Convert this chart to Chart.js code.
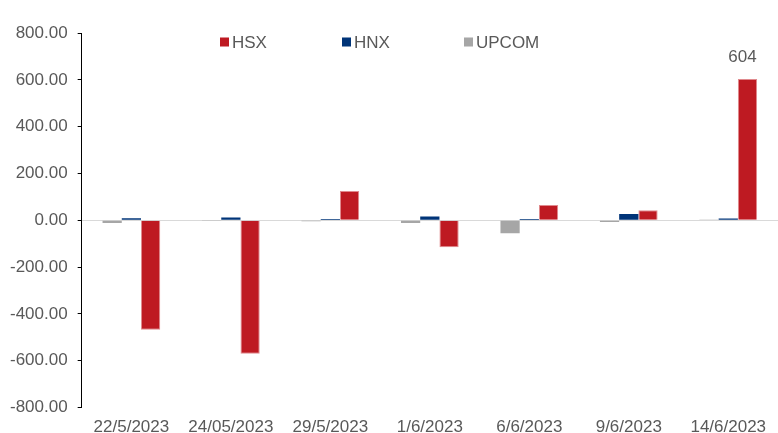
<!DOCTYPE html>
<html lang="en">
  <head>
    <meta charset="UTF-8" />
    <script src="https://cdn.jsdelivr.net/npm/chart.js@4.4.0/dist/chart.umd.min.js"></script>
    <title>HSX HNX UPCOM</title>
    <style>
      body {
        margin: 0;
        padding: 0;
        background: #fff;
      }
      .container {
        width: 778px;
        height: 433px;
      }
    </style>
  </head>
  <body>
    <div class="container">
      <canvas id="chart"></canvas>
    </div>
    <script>
      const categories = ['22/5/2023', '24/05/2023', '29/5/2023', '1/6/2023', '6/6/2023', '9/6/2023', '14/6/2023']
      const upcomValues = [-12, -1, -4, -12, -55, -7, 3]
      const hnxValues = [9, 12, 6, 16, 6, 27, 8]
      const hsxValues = [-468, -570, 125, -115, 65, 43, 604]
      const yTicks = [-800, -600, -400, -200, 0, 200, 400, 600, 800]

      const FONT = 'Arial, "Liberation Sans", sans-serif'
      const TEXT = '#595959'

      // legend drawn over the plot, like the original
      const legendItems = [
        { text: 'HSX', color: '#BE1A22' },
        { text: 'HNX', color: '#003478' },
        { text: 'UPCOM', color: '#A6A6A6' },
      ]
      const overlayPlugin = {
        id: 'overlay',
        afterDraw(chart) {
          const { ctx } = chart
          ctx.save()
          ctx.font = '17px ' + FONT
          ctx.textBaseline = 'middle'
          ctx.textAlign = 'left'
          legendItems.forEach((item, i) => {
            const x = 220 + i * 122
            const y = 42
            ctx.fillStyle = item.color
            ctx.fillRect(x, y - 4.5, 9, 9)
            ctx.fillStyle = TEXT
            ctx.fillText(item.text, x + 12, y + 1)
          })
          // value label on the largest bar
          const meta = chart.getDatasetMeta(2)
          const last = hsxValues.length - 1
          const bar = meta.data[last]
          ctx.textAlign = 'center'
          ctx.textBaseline = 'middle'
          ctx.fillText(String(hsxValues[last]), bar.x - 5, bar.y - 22)
          ctx.restore()
        },
      }

      const ctx = document.getElementById('chart').getContext('2d')
      new Chart(ctx, {
        type: 'bar',
        data: {
          labels: categories,
          datasets: [
            {
              label: 'UPCOM',
              data: upcomValues,
              backgroundColor: '#A6A6A6',
              borderWidth: 0,
            },
            {
              label: 'HNX',
              data: hnxValues,
              backgroundColor: '#003478',
              borderWidth: 0,
            },
            {
              label: 'HSX',
              data: hsxValues,
              backgroundColor: '#BE1A22',
              borderColor: '#E08A8E',
              borderWidth: 1,
            },
          ],
        },
        options: {
          responsive: true,
          maintainAspectRatio: false,
          animation: false,
          layout: {
            padding: { top: 33, right: 0, bottom: -15, left: 0 },
          },
          datasets: {
            bar: {
              barPercentage: 1,
              categoryPercentage: 0.58,
            },
          },
          plugins: {
            legend: { display: false },
            tooltip: { enabled: false },
          },
          scales: {
            x: {
              grid: { display: false, drawTicks: false, tickLength: 0 },
              border: { display: false },
              ticks: {
                color: TEXT,
                font: { family: FONT, size: 17 },
                maxRotation: 0,
                padding: 10,
              },
            },
            y: {
              min: -800,
              max: 800,
              afterBuildTicks: (axis) => {
                axis.ticks = yTicks.map((v) => ({ value: v }))
              },
              border: { display: true, color: '#000', width: 1 },
              grid: {
                drawOnChartArea: true,
                drawTicks: true,
                tickLength: 4,
                tickColor: '#000',
                color: (c) => (c.tick && c.tick.value === 0 ? '#D9D9D9' : 'transparent'),
              },
              ticks: {
                color: TEXT,
                font: { family: FONT, size: 17 },
                padding: 10,
                callback: (v) => Number(v).toFixed(2),
              },
            },
          },
        },
        plugins: [overlayPlugin],
      })
    </script>
  </body>
</html>
